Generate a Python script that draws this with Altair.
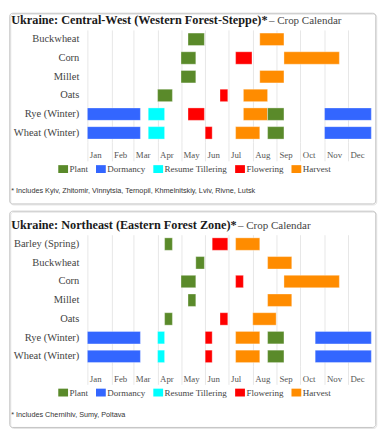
import json
from datetime import date

import altair as alt
import pandas as pd

# ---------------- data ----------------
MONTHS = ["Jan", "Feb", "Mar", "Apr", "May", "Jun", "Jul", "Aug", "Sep", "Oct", "Nov", "Dec"]
MONTH_START = [0, 31, 59, 90, 120, 151, 181, 212, 243, 273, 304, 334]
STAGES = ["Plant", "Dormancy", "Resume Tillering", "Flowering", "Harvest"]
STAGE_COLORS = ["#5a8a2a", "#3366ff", "#00ffff", "#ff0000", "#ff8c00"]

R1_TITLE = "Ukraine: Central-West (Western Forest-Steppe)*"
R1_NOTE = "* Includes Kyiv, Zhitomir, Vinnytsia, Ternopil, Khmelnitskiy, Lviv, Rivne, Lutsk"
R1_CROPS = ["Buckwheat", "Corn", "Millet", "Oats", "Rye (Winter)", "Wheat (Winter)"]
R1_CROP = ["Buckwheat", "Buckwheat",
           "Corn", "Corn", "Corn",
           "Millet", "Millet",
           "Oats", "Oats", "Oats",
           "Rye (Winter)", "Rye (Winter)", "Rye (Winter)", "Rye (Winter)", "Rye (Winter)", "Rye (Winter)",
           "Wheat (Winter)", "Wheat (Winter)", "Wheat (Winter)", "Wheat (Winter)", "Wheat (Winter)", "Wheat (Winter)"]
R1_STAGE = ["Plant", "Harvest",
            "Plant", "Flowering", "Harvest",
            "Plant", "Harvest",
            "Plant", "Flowering", "Harvest",
            "Dormancy", "Resume Tillering", "Flowering", "Harvest", "Plant", "Dormancy",
            "Dormancy", "Resume Tillering", "Flowering", "Harvest", "Plant", "Dormancy"]
R1_START = ["05-10", "08-10",
            "05-01", "07-10", "09-10",
            "05-01", "08-10",
            "04-01", "06-20", "07-20",
            "01-01", "03-20", "05-10", "07-20", "08-20", "11-01",
            "01-01", "03-20", "06-01", "07-10", "08-20", "11-01"]
R1_END = ["05-31", "09-10",
          "05-20", "07-31", "11-20",
          "05-20", "09-10",
          "04-20", "06-30", "08-20",
          "03-10", "04-10", "05-31", "08-20", "09-10", "12-31",
          "03-10", "04-10", "06-10", "08-10", "09-10", "12-31"]

R2_TITLE = "Ukraine: Northeast (Eastern Forest Zone)*"
R2_NOTE = "* Includes Chernihiv, Sumy, Poltava"
R2_CROPS = ["Barley (Spring)", "Buckwheat", "Corn", "Millet", "Oats", "Rye (Winter)", "Wheat (Winter)"]
R2_CROP = ["Barley (Spring)", "Barley (Spring)", "Barley (Spring)",
           "Buckwheat", "Buckwheat",
           "Corn", "Corn", "Corn",
           "Millet", "Millet",
           "Oats", "Oats", "Oats",
           "Rye (Winter)", "Rye (Winter)", "Rye (Winter)", "Rye (Winter)", "Rye (Winter)", "Rye (Winter)",
           "Wheat (Winter)", "Wheat (Winter)", "Wheat (Winter)", "Wheat (Winter)", "Wheat (Winter)", "Wheat (Winter)"]
R2_STAGE = ["Plant", "Flowering", "Harvest",
            "Plant", "Harvest",
            "Plant", "Flowering", "Harvest",
            "Plant", "Harvest",
            "Plant", "Flowering", "Harvest",
            "Dormancy", "Resume Tillering", "Flowering", "Harvest", "Plant", "Dormancy",
            "Dormancy", "Resume Tillering", "Flowering", "Harvest", "Plant", "Dormancy"]
R2_START = ["04-10", "06-10", "07-10",
            "05-20", "08-20",
            "05-01", "07-10", "09-10",
            "05-10", "08-20",
            "04-10", "06-20", "08-01",
            "01-01", "04-01", "06-01", "07-10", "08-20", "10-20",
            "01-01", "04-01", "06-01", "07-10", "08-20", "10-20"]
R2_END = ["04-20", "06-30", "08-10",
          "05-31", "09-20",
          "05-20", "07-20", "11-20",
          "05-20", "09-20",
          "04-20", "06-30", "08-31",
          "03-10", "04-10", "06-10", "08-10", "09-10", "12-31",
          "03-10", "04-10", "06-10", "08-10", "09-10", "12-31"]

SUFFIX = "\u2013 Crop Calendar"

# ---------------- style ----------------
SERIF = "Liberation Serif"
SANS = "Liberation Sans"
W = 290.6
STEP = 19.1
GRID = "#e6e6e6"
PLOT_LEFT = 87.7  # page x of plot origin (used for relative text offsets)


def doy(s):
    m, d = (int(v) for v in s.split("-"))
    return (date(2023, m, d) - date(2023, 1, 1)).days


LABEL_EXPR = "{}[indexof({}, datum.value)]".format(json.dumps(MONTHS), json.dumps(MONTH_START))


def one(text):
    return pd.DataFrame({"t": [text]})


def panel(title, note, crops, crop, stage, start, end, box_top, suffix_x):
    n = len(crops)
    H = n * STEP
    df = pd.DataFrame({
        "crop": crop,
        "stage": stage,
        "start": [doy(s) for s in start],
        "end": [doy(e) for e in end],
    })

    box = alt.Chart(one("")).mark_rect(
        fill="transparent", stroke="#c4c4c4", strokeWidth=1, cornerRadius=3
    ).encode(
        x=alt.value(8.5 - PLOT_LEFT), x2=alt.value(W + 3.7),
        y=alt.value(box_top), y2=alt.value(H + 63),
    )
    shadow = alt.Chart(one("")).mark_rect(
        fill="transparent", stroke="#e2e2e2", strokeWidth=1, cornerRadius=3
    ).encode(
        x=alt.value(9.5 - PLOT_LEFT), x2=alt.value(W + 4.7),
        y=alt.value(box_top + 1), y2=alt.value(H + 64),
    )

    bars = alt.Chart(df).mark_bar(stroke="white", strokeOpacity=0.35, strokeWidth=1).encode(
        x=alt.X("start:Q",
                scale=alt.Scale(domain=[0, 365], nice=False, zero=False),
                axis=alt.Axis(values=MONTH_START, labelExpr=LABEL_EXPR, grid=True,
                              gridColor=GRID, tickColor=GRID, tickSize=19, domain=False,
                              labelAlign="left", labelBaseline="alphabetic",
                              labelPadding=-3, labelOffset=2, labelFont=SERIF,
                              labelFontSize=9, labelColor="#555", labelFlush=False,
                              labelOverlap=False, title=None)),
        x2="end:Q",
        y=alt.Y("crop:N", sort=crops,
                scale=alt.Scale(paddingInner=0.335, paddingOuter=0.1675),
                axis=alt.Axis(title=None, domain=False, ticks=False, labelPadding=8.7,
                              labelFont=SERIF, labelFontSize=10.7, labelColor="#444",
                              grid=False)),
        color=alt.Color("stage:N",
                        scale=alt.Scale(domain=STAGES, range=STAGE_COLORS),
                        legend=alt.Legend(orient="none", legendX=-29.7, legendY=H + 22,
                                          direction="horizontal", title=None,
                                          symbolType="M-1,-0.8H1V0.8H-1Z", symbolSize=100,
                                          symbolStrokeWidth=0, labelFont=SERIF,
                                          labelFontSize=9.2, labelColor="#444",
                                          columnPadding=7.5, labelOffset=1.5, padding=0,
                                          symbolOpacity=1)),
    )

    t1 = alt.Chart(one(title)).mark_text(
        align="left", baseline="alphabetic", font=SERIF, fontSize=12.5,
        fontWeight="bold", color="#1a1a1a"
    ).encode(x=alt.value(10 - PLOT_LEFT), y=alt.value(-5.7), text="t:N")
    t2 = alt.Chart(one(SUFFIX)).mark_text(
        align="left", baseline="alphabetic", font=SERIF, fontSize=11.2, color="#444"
    ).encode(x=alt.value(suffix_x - PLOT_LEFT), y=alt.value(-5.7), text="t:N")
    fn = alt.Chart(one(note)).mark_text(
        align="left", baseline="alphabetic", font=SANS, fontSize=7.4, color="#333"
    ).encode(x=alt.value(10 - PLOT_LEFT), y=alt.value(H + 52), text="t:N")

    return alt.layer(shadow, box, bars, t1, t2, fn).properties(width=W, height=H)


p1 = panel(R1_TITLE, R1_NOTE, R1_CROPS, R1_CROP, R1_STAGE, R1_START, R1_END, -17, 273)
p2 = panel(R2_TITLE, R2_NOTE, R2_CROPS, R2_CROP, R2_STAGE, R2_START, R2_END, -24, 241.5)

chart = alt.vconcat(p1, p2, spacing=4).resolve_legend(color="independent").properties(
    padding=0, background="white"
).configure_view(stroke="transparent")

chart.save("out.html", embed_options={"renderer": "svg", "actions": False})
